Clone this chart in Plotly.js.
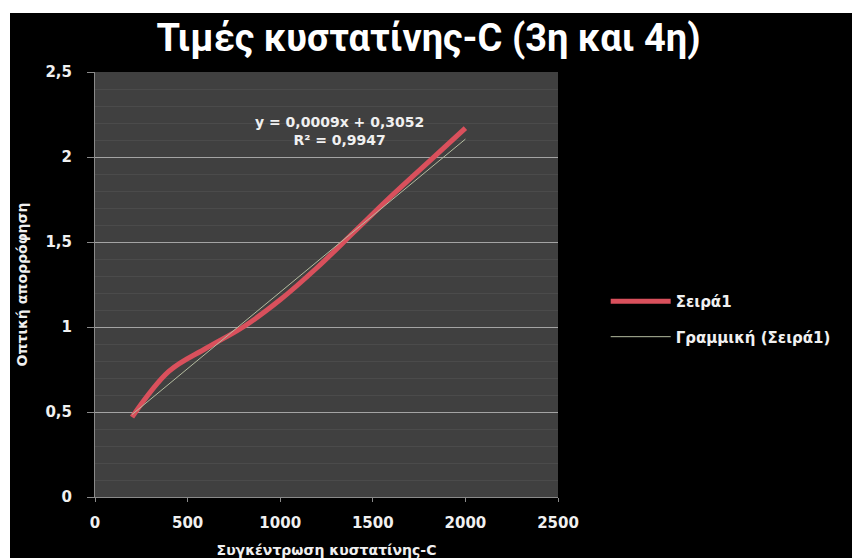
<!DOCTYPE html>
<html>
<head>
<meta charset="utf-8">
<script src="https://cdn.plot.ly/plotly-3.0.1.min.js"></script>
<style>
html, body { margin:0; padding:0; background:#ffffff; width:852px; height:558px; overflow:hidden; }
#chart { position:absolute; left:10px; top:13px; width:842px; height:545px; }
</style>
</head>
<body>
<div id="chart"></div>
<script>
// Data
const concentration = [200, 400, 600, 800, 1000, 1200, 1400, 1600, 1800, 2000];
const absorbance    = [0.47, 0.74, 0.875, 1.0, 1.16, 1.35, 1.56, 1.77, 1.97, 2.17];
const trendX = [200, 2000];
const trendY = [0.4852, 2.1052];
const yTicks = [0, 0.5, 1, 1.5, 2, 2.5];
const xTicks = [0, 500, 1000, 1500, 2000, 2500];
const seriesName = 'Σειρά1';
const trendName = 'Γραμμική (Σειρά1)';
const chartTitle = 'Τιμές κυστατίνης-C (3η και 4η)';
const xTitle = 'Συγκέντρωση κυστατίνης-C';
const yTitle = 'Οπτική απορρόφηση';
const equationText = 'y = 0,0009x + 0,3052<br>R² = 0,9947';

const smallFont = {family:'DejaVu Sans', size:15, color:'#f0f0f0', weight:'bold'};

const traces = [
  {
    x: concentration, y: absorbance, type:'scatter', mode:'lines', name: seriesName,
    line:{color:'#d9505c', width:5, shape:'spline', smoothing:1},
    legendgroup:'a'
  },
  {
    x: trendX, y: trendY, type:'scatter', mode:'lines', name: trendName,
    line:{color:'#b4bca0', width:1},
    legendgroup:'b'
  }
];

const layout = {
  width:842, height:545,
  paper_bgcolor:'#000000', plot_bgcolor:'#404040',
  separators:',.',
  margin:{l:85, r:294, t:59, b:61},
  title:{
    text: chartTitle, font:{family:'Roboto', size:38, color:'#ffffff', weight:'bold'},
    x:0.497, xref:'container', xanchor:'center', y:0.955, yref:'container', yanchor:'middle'
  },
  xaxis:{
    range:[0,2500], tickvals:xTicks, showgrid:false, zeroline:false,
    showline:true, linecolor:'#8a8a8a', linewidth:1,
    ticks:'outside', ticklen:4, tickcolor:'#8a8a8a',
    tickfont: smallFont, ticklabelstandoff:8,
    title:{text:xTitle, font:{family:'DejaVu Sans', size:14, color:'#f0f0f0', weight:'bold'}, standoff:23},
    fixedrange:true
  },
  yaxis:{
    range:[0,2.5], tickvals:yTicks, zeroline:false,
    showgrid:true, gridcolor:'#a4a4a4', gridwidth:1,
    minor:{dtick:0.1, showgrid:true, gridcolor:'#4b4b4b', gridwidth:1},
    showline:true, linecolor:'#8a8a8a', linewidth:1,
    ticks:'outside', ticklen:7, tickcolor:'#8a8a8a',
    tickfont: smallFont, ticklabelstandoff:12,
    title:{text:yTitle, font:{family:'DejaVu Sans', size:14, color:'#f0f0f0', weight:'bold'}, standoff:14},
    fixedrange:true
  },
  showlegend:true,
  legend:{
    x:1.103, xanchor:'left', y:0.499, yanchor:'top',
    font:{family:'DejaVu Sans', size:15, color:'#f0f0f0', weight:'bold'},
    bgcolor:'rgba(0,0,0,0)', itemwidth:60, traceorder:'grouped', tracegroupgap:13
  },
  annotations:[
    {
      text: equationText, xref:'paper', yref:'paper', x:0.529, y:0.862,
      xanchor:'center', yanchor:'middle', showarrow:false, align:'center',
      font:{family:'DejaVu Sans', size:14, color:'#f0f0f0', weight:'bold'}
    }
  ]
};

Plotly.newPlot('chart', traces, layout, {displayModeBar:false, staticPlot:true});
</script>
</body>
</html>
